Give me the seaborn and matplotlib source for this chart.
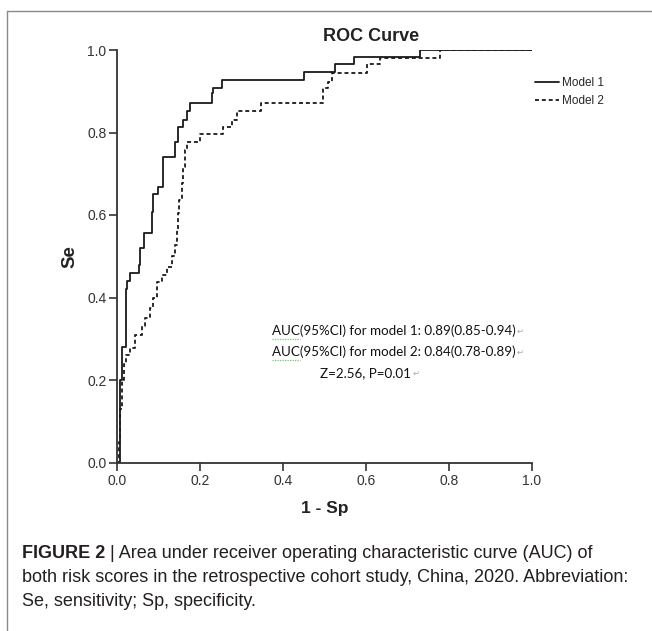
import matplotlib
matplotlib.use("Agg")
import matplotlib.pyplot as plt
from matplotlib import font_manager
from matplotlib.lines import Line2D
import pandas as pd
import seaborn as sns

# ROC step points (1 - Sp, Se)
m1_fpr = [0.0, 0.005, 0.007, 0.010, 0.020, 0.023, 0.030, 0.052, 0.054, 0.064, 0.083, 0.086, 0.098,
          0.110, 0.139, 0.146, 0.158, 0.168, 0.175, 0.228, 0.231, 0.252, 0.450, 0.525, 0.571, 0.730, 1.0]
m1_tpr = [0.0, 0.10, 0.20, 0.28, 0.42, 0.44, 0.46, 0.48, 0.52, 0.556, 0.607, 0.65, 0.668,
          0.74, 0.777, 0.813, 0.83, 0.852, 0.872, 0.896, 0.908, 0.927, 0.947, 0.966, 0.983, 1.0, 1.0]
m2_fpr = [0.0, 0.003, 0.007, 0.010, 0.015, 0.020, 0.030, 0.042, 0.059, 0.066, 0.078, 0.086,
          0.095, 0.107, 0.120, 0.132, 0.139, 0.144, 0.146, 0.149, 0.156, 0.158, 0.163, 0.168,
          0.200, 0.255, 0.277, 0.289, 0.347, 0.496, 0.508, 0.518, 0.603, 0.634, 0.777, 1.0]
m2_tpr = [0.0, 0.05, 0.13, 0.20, 0.24, 0.26, 0.277, 0.31, 0.33, 0.35, 0.375, 0.40,
          0.437, 0.455, 0.474, 0.50, 0.527, 0.563, 0.605, 0.636, 0.677, 0.716, 0.757, 0.777,
          0.797, 0.813, 0.83, 0.852, 0.872, 0.907, 0.922, 0.944, 0.966, 0.98, 1.0, 1.0]
model_names = ["Model 1", "Model 2"]
ticks = [0.0, 0.2, 0.4, 0.6, 0.8, 1.0]
auc_lines = ["AUC(95%CI) for model 1: 0.89(0.85-0.94)",
             "AUC(95%CI) for model 2: 0.84(0.78-0.89)",
             "Z=2.56, P=0.01"]
caption_lines = ["both risk scores in the retrospective cohort study, China, 2020. Abbreviation:",
                 "Se, sensitivity; Sp, specificity."]

df = pd.concat([
    pd.DataFrame({"fpr": m1_fpr, "tpr": m1_tpr, "model": model_names[0]}),
    pd.DataFrame({"fpr": m2_fpr, "tpr": m2_tpr, "model": model_names[1]}),
])

sns.set_style("ticks")
plt.rcParams["font.family"] = ["Liberation Sans", "DejaVu Sans"]

installed = {f.name for f in font_manager.fontManager.ttflist}
cap_font = "Liberation Sans Narrow" if "Liberation Sans Narrow" in installed else "Liberation Sans"
ann_font = "Lato" if "Lato" in installed else "DejaVu Sans"

W, H = 652, 631
fig = plt.figure(figsize=(W / 100, H / 100), dpi=100)
ax = fig.add_axes([117.5 / W, 1 - 462.5 / H, 414.5 / W, 412.5 / H])

sns.lineplot(data=df, x="fpr", y="tpr", hue="model", style="model",
             palette=["#1a1a1a", "#1a1a1a"], dashes={"Model 1": "", "Model 2": (2.2, 1.6)},
             estimator=None, sort=False, drawstyle="steps-post", lw=1.3, ax=ax)

ax.set_xlim(0, 1)
ax.set_ylim(0, 1)
ax.set_xticks(ticks)
ax.set_yticks(ticks)
ax.set_xticklabels([f"{t:.1f}" for t in ticks])
ax.set_yticklabels([f"{t:.1f}" for t in ticks])
ax.tick_params(direction="out", length=6, width=1.2, colors="#333333", labelsize=10, pad=2)
for s in ["left", "bottom"]:
    ax.spines[s].set_linewidth(1.3)
    ax.spines[s].set_color("#333333")
sns.despine(ax=ax)
ax.set_xlabel("1 - Sp", fontsize=12.5, fontweight="bold", labelpad=10, color="#222222")
ax.set_ylabel("Se", fontsize=13.5, fontweight="bold", labelpad=6, color="#222222")

sns.move_legend(ax, "upper left", bbox_to_anchor=(535 / W, 1 - 77 / H),
                bbox_transform=fig.transFigure, frameon=False, title=None,
                fontsize=8.5, handlelength=2.0, handletextpad=0.3, labelspacing=0.55,
                borderaxespad=0, borderpad=0)

fig.text(371 / W, 1 - 36.5 / H, "ROC Curve", ha="center", va="center",
         fontsize=13, fontweight="bold", color="#222222")

# annotation block (Word text box pasted on the chart)
ann_x = [272, 272, 320]
ann_y = [331, 352, 373]
for s, xx, yy in zip(auc_lines, ann_x, ann_y):
    t = fig.text(xx / W, 1 - yy / H, s, ha="left", va="center", fontsize=9.6,
                 family=ann_font, color="#111111")
    fig.canvas.draw()
    bb = t.get_window_extent()
    fig.text(bb.x1 / W + 0.002, 1 - yy / H, "\u21b5", ha="left", va="center",
             fontsize=6, family="DejaVu Sans", color="#aaaaaa")
    if s.startswith("AUC"):
        m = fig.text(xx / W, 1 - yy / H, "AUC", ha="left", va="center", fontsize=9.6,
                     family=ann_font, alpha=0)
        fig.canvas.draw()
        mb = m.get_window_extent()
        m.remove()
        fig.add_artist(Line2D([mb.x0 / W, mb.x1 / W], [(mb.y0 - 2) / H] * 2,
                              transform=fig.transFigure, color="#7cc47c", lw=0.9,
                              linestyle=(0, (1, 1))))

# caption
t1 = fig.text(22 / W, 1 - 554 / H, "FIGURE 2", ha="left", va="center", fontsize=13,
              fontweight="bold", family=cap_font, color="#231f20")
fig.canvas.draw()
bb = t1.get_window_extent()
fig.text(bb.x1 / W, 1 - 554 / H, " | Area under receiver operating characteristic curve (AUC) of",
         ha="left", va="center", fontsize=13, family=cap_font, color="#231f20")
for s, yy in zip(caption_lines, [578, 601]):
    fig.text(22 / W, 1 - yy / H, s, ha="left", va="center", fontsize=13,
             family=cap_font, color="#231f20")

# panel border
fig.add_artist(Line2D([7 / W, 1], [1 - 11 / H, 1 - 11 / H], transform=fig.transFigure,
                      color="#8a8a8a", lw=1))
fig.add_artist(Line2D([7 / W, 7 / W], [0, 1 - 11 / H], transform=fig.transFigure,
                      color="#8a8a8a", lw=1))

fig.savefig("out.png", dpi=100)
